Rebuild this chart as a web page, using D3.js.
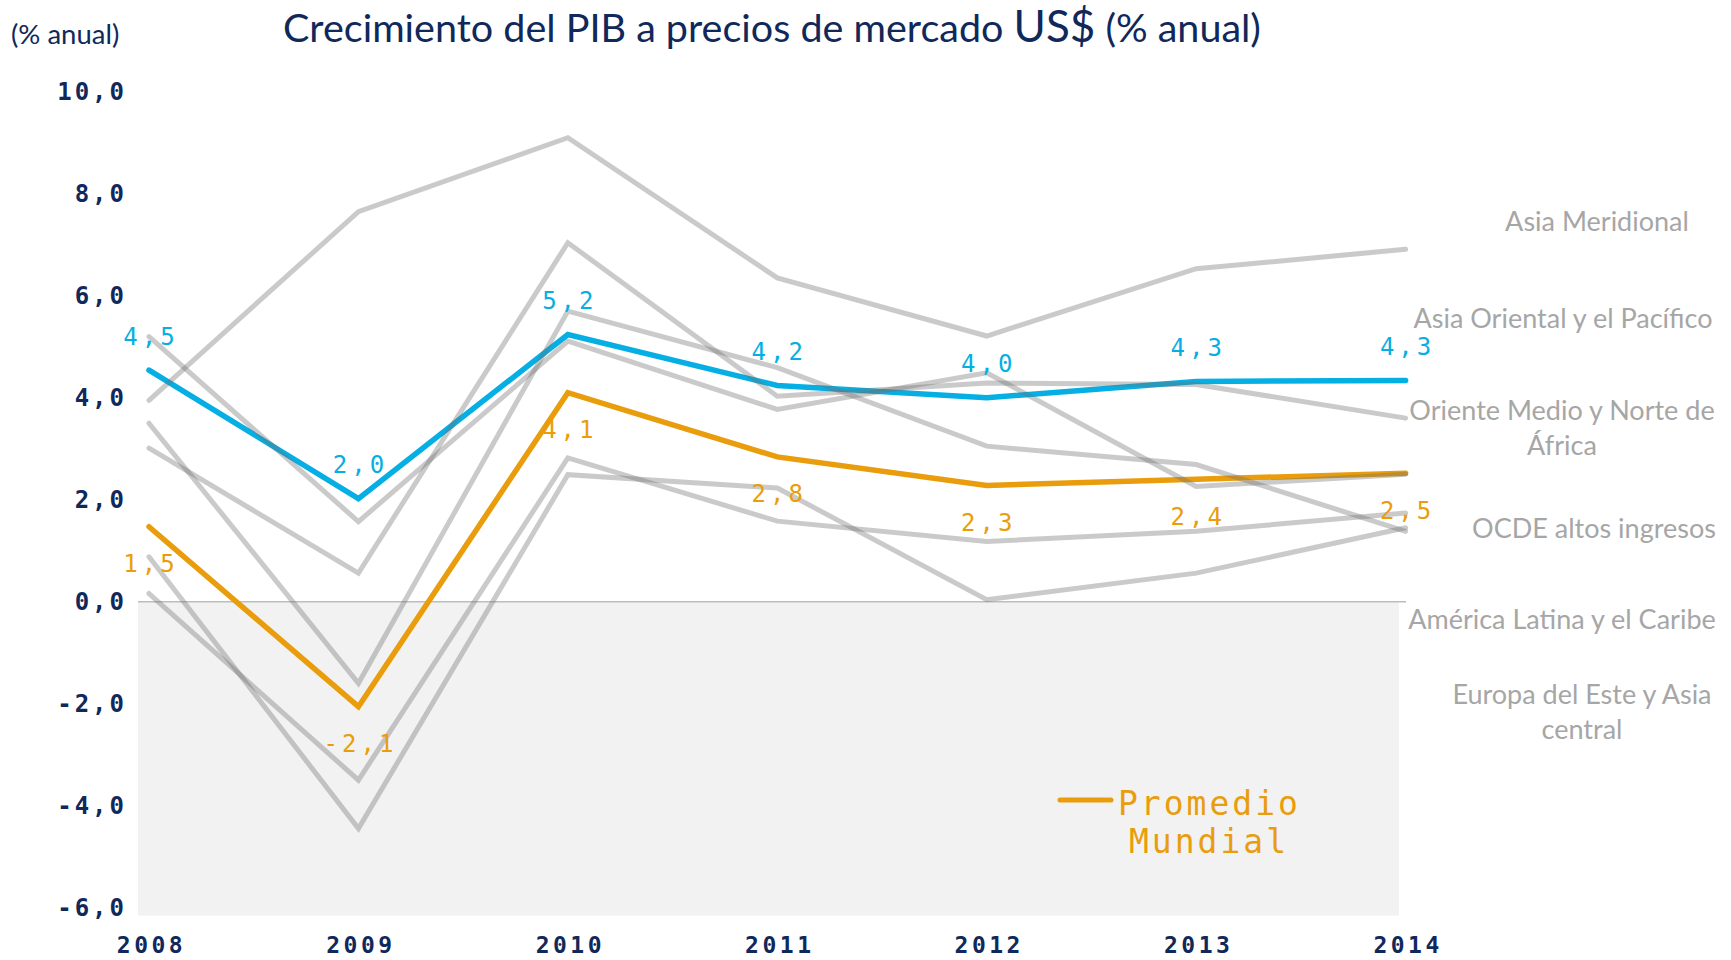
<!DOCTYPE html>
<html>
<head>
<meta charset="utf-8">
<script src="https://cdn.jsdelivr.net/npm/d3@7"></script>
<style>
  body { margin: 0; background: #fff; }
</style>
</head>
<body>
<div id="chart"></div>
<script>
// years on the x axis
const years = [2008, 2009, 2010, 2011, 2012, 2013, 2014];

// regional series (grey lines)
const asiaMeridional = [3.95, 7.65, 9.1, 6.35, 5.21, 6.53, 6.91];
const asiaOriental = [3.01, 0.56, 7.04, 4.03, 4.29, 4.26, 3.6];
const orienteMedio = [5.2, 1.57, 5.11, 3.77, 4.49, 2.26, 2.5];
const ocdeAltos = [0.16, -3.5, 2.82, 1.58, 1.18, 1.38, 1.74];
const americaLatina = [3.5, -1.6, 5.7, 4.59, 3.05, 2.69, 1.38];
const europaEste = [0.88, -4.45, 2.49, 2.23, 0.04, 0.56, 1.45];

// highlighted series
const paisesDesarrollo = [4.54, 2.02, 5.24, 4.24, 4.0, 4.32, 4.34];
const promedioMundial = [1.47, -2.06, 4.1, 2.84, 2.28, 2.4, 2.52];

const yTicks = [-6, -4, -2, 0, 2, 4, 6, 8, 10];

const greySeries = [asiaMeridional, asiaOriental, orienteMedio, ocdeAltos, americaLatina, europaEste];

// labels on the right, placed by hand like in the original slide
const regionLabels = [
  {lines: ["Asia Meridional"], cx: 1597, cy: 222},
  {lines: ["Asia Oriental y el Pacífico"], cx: 1563, cy: 319},
  {lines: ["Oriente Medio y Norte de", "África"], cx: 1562, cy: 411},
  {lines: ["OCDE altos ingresos"], cx: 1594, cy: 529},
  {lines: ["América Latina y el Caribe"], cx: 1562, cy: 620},
  {lines: ["Europa del Este y Asia", "central"], cx: 1582, cy: 695}
];

let width = 1731;
let height = 960;

const navy = "#10285a";
const blue = "#06afe3";
const orange = "#e99d0c";
const labelGrey = "#a6a6a6";
const monoFont = "'DejaVu Sans Mono', monospace";
const textFont = "Lato, 'Open Sans', sans-serif";

const locale = d3.formatLocale({decimal: ",", thousands: ".", grouping: [3], currency: ["", "$"], minus: "-"});
const fmt = locale.format(".1f");

const x = d3.scalePoint().domain(years).range([149, 1405.6]);
const y = d3.scaleLinear().domain([-6, 10]).range([907.6, 91.8]);

const plotLeft = 138, plotRight = 1399;

const svg = d3.select("#chart").append("svg")
  .attr("width", width)
  .attr("height", height);

// shaded negative zone
svg.append("rect")
  .attr("x", plotLeft)
  .attr("y", y(0))
  .attr("width", plotRight - plotLeft)
  .attr("height", y(-6) + 8 - y(0))
  .attr("fill", "#f2f2f2");

svg.append("line")
  .attr("x1", plotLeft).attr("x2", plotRight + 7)
  .attr("y1", y(0)).attr("y2", y(0))
  .attr("stroke", "#bdbdbd")
  .attr("stroke-width", 1.5);

// axes
const yAxis = svg.append("g")
  .attr("transform", "translate(127,0)")
  .call(d3.axisLeft(y).tickValues(yTicks).tickSize(0).tickPadding(0).tickFormat(fmt));
yAxis.select(".domain").remove();
yAxis.selectAll("text")
  .attr("fill", navy)
  .attr("font-family", monoFont)
  .attr("font-weight", "bold")
  .attr("font-size", 24)
  .attr("letter-spacing", 3);

const xAxis = svg.append("g")
  .attr("transform", "translate(0,945)")
  .call(d3.axisBottom(x).tickSize(0).tickPadding(0).tickFormat(d => String(d)));
xAxis.select(".domain").remove();
xAxis.selectAll("text")
  .attr("y", 0)
  .attr("dy", "0.35em")
  .attr("dx", 2)
  .attr("fill", navy)
  .attr("font-family", monoFont)
  .attr("font-weight", "bold")
  .attr("font-size", 23)
  .attr("letter-spacing", 3.5);

const line = d3.line()
  .x((d, i) => x(years[i]))
  .y(d => y(d));

// coloured lines first, the grey ones go over them with transparency
svg.append("path")
  .datum(paisesDesarrollo)
  .attr("d", line)
  .attr("fill", "none")
  .attr("stroke", blue)
  .attr("stroke-width", 5.5)
  .attr("stroke-linecap", "round");

svg.append("path")
  .datum(promedioMundial)
  .attr("d", line)
  .attr("fill", "none")
  .attr("stroke", orange)
  .attr("stroke-width", 5.5)
  .attr("stroke-linecap", "round");

svg.append("g")
  .selectAll("path")
  .data(greySeries)
  .join("path")
  .attr("d", line)
  .attr("fill", "none")
  .attr("stroke", "#6e6e6e")
  .attr("stroke-opacity", 0.37)
  .attr("stroke-width", 5)
  .attr("stroke-linecap", "round");

// value labels
svg.append("g")
  .selectAll("text")
  .data(paisesDesarrollo)
  .join("text")
  .attr("x", (d, i) => x(years[i]) + 2)
  .attr("y", d => y(d) - 34)
  .attr("dy", "0.35em")
  .attr("text-anchor", "middle")
  .attr("fill", blue)
  .attr("font-family", monoFont)
  .attr("font-size", 24)
  .attr("letter-spacing", 4)
  .text(d => fmt(d));

svg.append("g")
  .selectAll("text")
  .data(promedioMundial)
  .join("text")
  .attr("x", (d, i) => x(years[i]) + 2)
  .attr("y", d => y(d) + 37)
  .attr("dy", "0.35em")
  .attr("text-anchor", "middle")
  .attr("fill", orange)
  .attr("font-family", monoFont)
  .attr("font-size", 24)
  .attr("letter-spacing", 4)
  .text(d => fmt(d));

// region names
regionLabels.forEach(function(lab) {
  lab.lines.forEach(function(t, k) {
    svg.append("text")
      .attr("x", lab.cx)
      .attr("y", lab.cy + k * 35)
      .attr("dy", "0.35em")
      .attr("text-anchor", "middle")
      .attr("fill", labelGrey)
      .attr("font-family", textFont)
      .attr("font-size", 27)
      .text(t);
  });
});

// legend
svg.append("line")
  .attr("x1", 1060).attr("x2", 1111)
  .attr("y1", 800).attr("y2", 800)
  .attr("stroke", orange)
  .attr("stroke-width", 5)
  .attr("stroke-linecap", "round");

svg.append("text")
  .attr("x", 1118).attr("y", 815)
  .attr("fill", orange)
  .attr("font-family", monoFont)
  .attr("font-size", 33)
  .attr("letter-spacing", 3)
  .text("Promedio");

svg.append("text")
  .attr("x", 1209).attr("y", 853)
  .attr("text-anchor", "middle")
  .attr("fill", orange)
  .attr("font-family", monoFont)
  .attr("font-size", 33)
  .attr("letter-spacing", 3)
  .text("Mundial");

// titles
const title = svg.append("text")
  .attr("x", 772).attr("y", 42)
  .attr("text-anchor", "middle")
  .attr("fill", navy)
  .attr("font-family", textFont)
  .attr("font-size", 39.5);
title.append("tspan").text("Crecimiento del PIB a precios de mercado ");
title.append("tspan").attr("font-size", 44).text("US$");
title.append("tspan").text(" (% anual)");

svg.append("text")
  .attr("x", 11).attr("y", 44)
  .attr("fill", navy)
  .attr("font-family", textFont)
  .attr("font-size", 27.5)
  .text("(% anual)");
</script>
</body>
</html>
